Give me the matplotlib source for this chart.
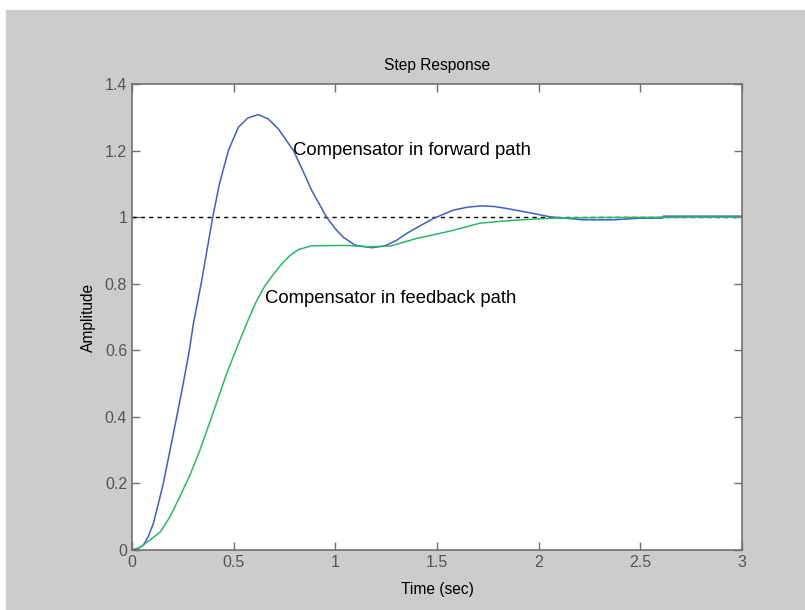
import matplotlib.pyplot as plt
from matplotlib.patches import Rectangle

# forward path compensator (blue)
t_fwd = [0, 0.03, 0.056, 0.08, 0.105, 0.13, 0.154, 0.187, 0.22, 0.252, 0.282,
         0.302, 0.343, 0.397, 0.43, 0.474, 0.523, 0.57, 0.621, 0.67, 0.72, 0.794,
         0.84, 0.884, 0.957, 1.0, 1.04, 1.097, 1.179, 1.245, 1.3, 1.351, 1.42, 1.482,
         1.58, 1.65, 1.72, 1.78, 1.843, 1.974, 2.056, 2.22, 2.37, 2.5, 2.61, 2.612, 3.0]
y_fwd = [0, 0.005, 0.015, 0.04, 0.08, 0.14, 0.2, 0.30, 0.4, 0.5, 0.6,
         0.68, 0.81, 1.0, 1.1, 1.2, 1.27, 1.298, 1.308, 1.295, 1.265, 1.2,
         1.14, 1.08, 1.0, 0.965, 0.939, 0.916, 0.908, 0.914, 0.93, 0.951, 0.975, 0.996,
         1.021, 1.03, 1.034, 1.032, 1.026, 1.011, 1.001, 0.992, 0.992, 0.997, 0.997, 1.003, 1.003]

# feedback path compensator (green)
t_fb = [0, 0.04, 0.089, 0.14, 0.187, 0.235, 0.285, 0.334, 0.392, 0.466, 0.531,
        0.564, 0.61, 0.65, 0.695, 0.74, 0.777, 0.82, 0.884, 1.06, 1.155, 1.27, 1.40,
        1.564, 1.712, 1.843, 1.974, 2.07, 2.3, 3.0]
y_fb = [0, 0.008, 0.03, 0.055, 0.10, 0.16, 0.225, 0.30, 0.40, 0.531, 0.631,
        0.681, 0.745, 0.79, 0.828, 0.862, 0.885, 0.903, 0.914, 0.915, 0.911, 0.913, 0.936,
        0.958, 0.982, 0.989, 0.994, 0.997, 0.999, 1.0]

xticks = [0, 0.5, 1, 1.5, 2, 2.5, 3]
yticks = [0, 0.2, 0.4, 0.6, 0.8, 1, 1.2, 1.4]

plt.rcParams['font.family'] = ['Liberation Sans', 'DejaVu Sans']

fig = plt.figure(figsize=(8.05, 6.10), dpi=100)
fig.patch.set_facecolor('white')
fig.patches.append(Rectangle((6 / 805, 0), 1 - 6 / 805, 600 / 610,
                             transform=fig.transFigure, color='#cdccca', zorder=-10))

ax = fig.add_axes([132 / 805, 60 / 610, 610 / 805, 466 / 610])
ax.set_zorder(5)
ax.set_facecolor('white')

ax.plot([0, 3], [1, 1], color='black', linestyle=(0, (3, 3)), linewidth=1)
ax.plot(t_fwd, y_fwd, color='#3f5fc0', linewidth=1.1)
ax.plot(t_fb, y_fb, color='#2db865', linewidth=1.1)

ax.text(0.792, 1.2, 'Compensator in forward path', fontsize=13.3, va='center', ha='left')
ax.text(0.654, 0.757, 'Compensator in feedback path', fontsize=13.3, va='center', ha='left')

ax.set_xlim(0, 3)
ax.set_ylim(0, 1.4)
ax.set_xticks(xticks)
ax.set_xticklabels(['0', '0.5', '1', '1.5', '2', '2.5', '3'])
ax.set_yticks(yticks)
ax.set_yticklabels(['0', '0.2', '0.4', '0.6', '0.8', '1', '1.2', '1.4'])
ax.tick_params(direction='in', length=6, top=True, right=True, colors='#707070',
               labelcolor='#555555', labelsize=11.5, width=1)
for s in ax.spines.values():
    s.set_color('#707070')
    s.set_linewidth(1.2)

ax.set_title('Step Response', fontsize=11.2, pad=10)
ax.set_xlabel('Time (sec)', fontsize=11.2, labelpad=9)
ax.set_ylabel('Amplitude', fontsize=11.2, labelpad=6)

fig.savefig('out.png', dpi=100)
